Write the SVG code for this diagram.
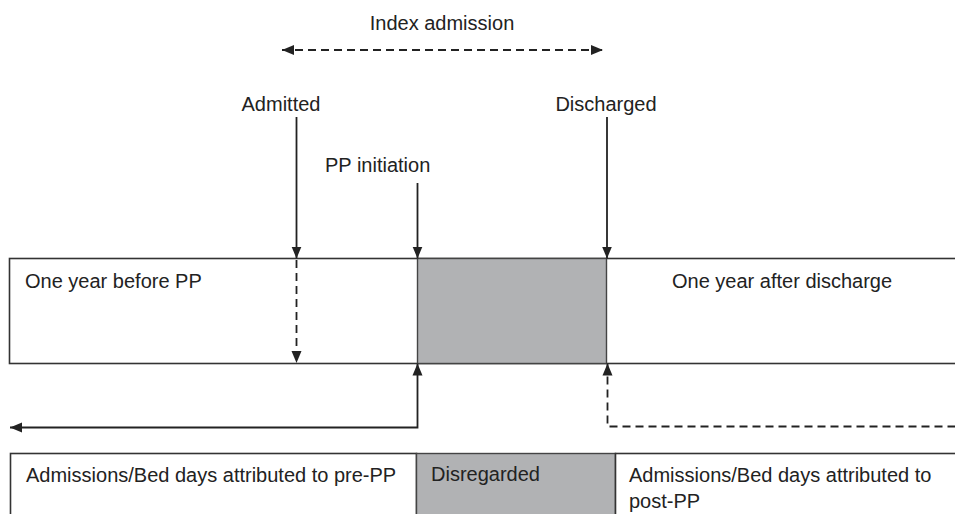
<svg xmlns="http://www.w3.org/2000/svg" width="955" height="514" viewBox="0 0 955 514">
<defs>
<style>
text{font-family:"Liberation Sans",Arial,sans-serif;font-size:20px;fill:#222}
.ln{stroke:#222;stroke-width:1.8;fill:none}
.dash{stroke-dasharray:8 5}
.box{fill:#fff;stroke:#333;stroke-width:1.6}
.grey{fill:#b1b2b4;stroke:#444;stroke-width:1.4}
</style>
<marker id="ah" viewBox="0 0 12 12" refX="12" refY="6" markerWidth="12" markerHeight="12" markerUnits="userSpaceOnUse" orient="auto-start-reverse">
<path d="M0,1 L12,6 L0,11 Z" fill="#222"/>
</marker>
</defs>
<rect width="955" height="514" fill="#fff"/>
<g id="top-band">
<rect class="box" x="9.5" y="258.5" width="960" height="105"/>
<rect class="grey" x="417.5" y="258.5" width="189" height="105"/>
<text x="25" y="288">One year before PP</text>
<text x="672" y="288">One year after discharge</text>
</g>
<g id="bottom-pre">
<rect class="box" x="10.5" y="453.5" width="406" height="80"/>
<text x="26" y="482">Admissions/Bed days attributed to pre-PP</text>
</g>
<g id="bottom-disregarded">
<rect class="grey" x="416.5" y="453.5" width="199" height="80"/>
<text x="431" y="481">Disregarded</text>
</g>
<g id="bottom-post">
<rect class="box" x="615.5" y="453.5" width="360" height="80"/>
<text x="629" y="482">Admissions/Bed days attributed to</text>
<text x="629" y="508">post-PP</text>
</g>
<g id="labels">
<text x="442" y="30" text-anchor="middle">Index admission</text>
<text x="281" y="111" text-anchor="middle">Admitted</text>
<text x="606" y="111" text-anchor="middle">Discharged</text>
<text x="325" y="172">PP initiation</text>
</g>
<g id="connectors">
<line class="ln dash" x1="282" y1="50" x2="603" y2="50" marker-start="url(#ah)" marker-end="url(#ah)"/>
<line class="ln" x1="296.5" y1="117" x2="296.5" y2="258.5" marker-end="url(#ah)"/>
<line class="ln" x1="417.5" y1="183" x2="417.5" y2="258.5" marker-end="url(#ah)"/>
<line class="ln" x1="607" y1="117" x2="607" y2="258.5" marker-end="url(#ah)"/>
<line class="ln dash" x1="296.5" y1="260" x2="296.5" y2="363" marker-end="url(#ah)"/>
<polyline class="ln" points="417.5,363.5 417.5,427.5 10,427.5" marker-start="url(#ah)" marker-end="url(#ah)"/>
<polyline class="ln dash" points="607.5,363.5 607.5,426.5 955,426.5" marker-start="url(#ah)"/>
</g>
</svg>
